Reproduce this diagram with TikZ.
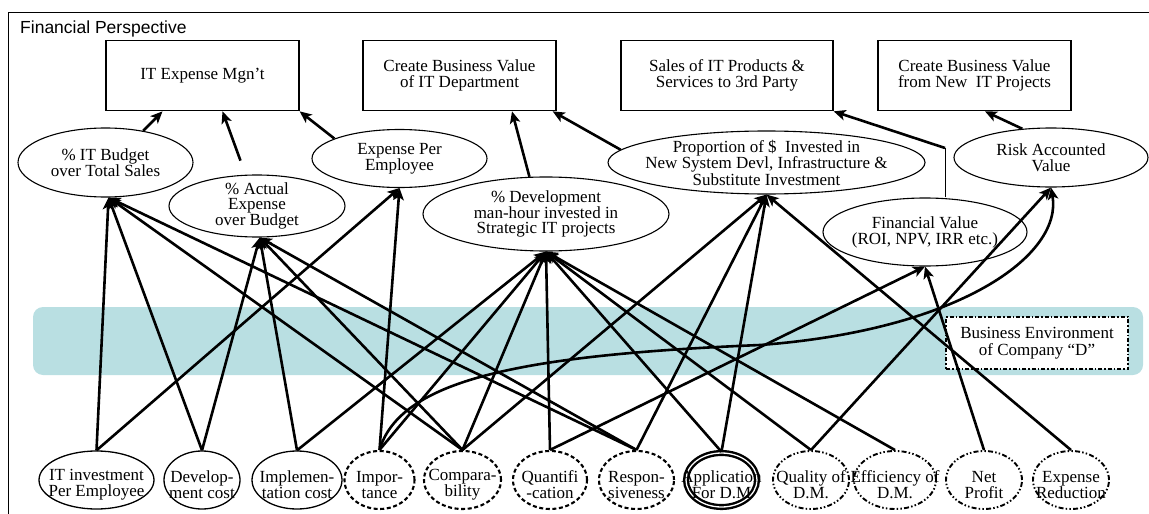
\documentclass[tikz,border=0pt]{standalone}
\usepackage{fontspec}
\setmainfont{Liberation Serif}
\newfontfamily\titlesans{Liberation Sans}
\usetikzlibrary{shapes.geometric,arrows.meta,calc}
\definecolor{bandteal}{HTML}{B9DFE2}

\begin{document}
\begin{tikzpicture}[x=1pt,y=-1pt,
  txt/.style={font=\fontsize{17}{16}\selectfont, align=center},
  goal/.style={draw, line width=1.3pt, minimum width=#1, minimum height=70pt, inner sep=0pt, txt},
  measure/.style n args={2}{ellipse, draw, line width=1.1pt, minimum width=#1, minimum height=#2, inner sep=-40pt, txt},
  driver/.style n args={2}{ellipse, draw, minimum width=#1, minimum height=#2, inner sep=0pt},
  plainring/.style={line width=1.3pt},
  dashring/.style={line width=2.1pt, dash pattern=on 4pt off 2.6pt},
  dotring/.style={line width=1.9pt, dash pattern=on 5pt off 2.2pt on 1.5pt off 2.2pt on 1.5pt off 2.2pt},
  doublering/.style={line width=2.4pt, double, double distance=1.3pt},
  btxt/.style={txt, inner sep=0pt},
  link/.style={line width=2.6pt, -{Stealth[length=12pt,width=10.5pt,inset=3pt]}},
]
\useasboundingbox (0,0) rectangle (1149,514);

% perspective frame and caption
\draw[line width=1pt] (8,530) -- (8,12.3) -- (1170,12.3);
\node[anchor=base west, inner sep=0pt, font=\titlesans\fontsize{17.5}{19}\selectfont] (title) at (20,34) {Financial Perspective};

% business environment band
\node[fill=bandteal, rounded corners=10pt, minimum width=1110pt, minimum height=68pt, inner sep=0pt] (band) at (588,341) {};
\node[draw, fill=white, line width=1.9pt, dash pattern=on 4pt off 2pt on 1.5pt off 2pt,
      minimum width=182pt, minimum height=52pt, inner sep=0pt,
      font=\fontsize{17}{16.5}\selectfont, align=center] (env) at (1037,343) {Business Environment\\of Company “D”};

% goals
\node[goal=193pt] (T1) at (202.5,75.7) {IT Expense Mgn’t};
\node[goal=193pt] (T2) at (459.5,75.7) {Create Business Value\\of IT Department};
\node[goal=212pt] (T3) at (727,75.7) {Sales of IT Products \&\\Services to 3rd Party};
\node[goal=193pt] (T4) at (974.5,75.7) {Create Business Value\\from New\ \ IT Projects};

% measures
\node[measure={175pt}{69pt}] (A) at (105.5,162.5) {\% IT Budget\\over Total Sales};
\node[measure={176pt}{62pt}, font=\fontsize{17}{15}\selectfont] (B) at (257,206) {\% Actual\\Expense\\over Budget};
\node[measure={175pt}{58pt}] (C) at (399.5,158.5) {Expense Per\\Employee};
\node[measure={246pt}{74pt}, font=\fontsize{17}{15.5}\selectfont] (D) at (546,214) {\% Development\\man-hour invested in\\Strategic IT projects};
\node[measure={317pt}{63pt}, font=\fontsize{17}{14}\selectfont] (E) at (766.5,162.5) {Proportion of \$\ \ Invested in\\New System Devl, Infrastructure \&\\Substitute Investment};
\node[measure={194pt}{59pt}] (F) at (1051,157.5) {Risk Accounted\\Value};
\node[measure={204pt}{68pt}] (G) at (925,232) {Financial Value\\(ROI, NPV, IRR etc.)};

% drivers
\node[driver={115pt}{58pt}, plainring] (inv) at (96.5,480) {};
\node[driver={76pt}{58pt}, plainring] (dev) at (202,480) {};
\node[driver={90pt}{58pt}, plainring] (impl) at (297,480) {};
\node[driver={70pt}{58pt}, dashring] (imp) at (379.5,480) {};
\node[driver={77pt}{58pt}, dashring] (comp) at (462.5,480) {};
\node[driver={74pt}{58pt}, dashring] (quant) at (550,480) {};
\node[driver={75pt}{58pt}, dashring] (resp) at (636.5,480) {};
\node[driver={71pt}{54pt}, doublering] (app) at (721.5,480) {};
\node[driver={76pt}{58pt}, dotring] (qual) at (811,480) {};
\node[driver={82pt}{58pt}, dotring] (eff) at (895,480) {};
\node[driver={76pt}{58pt}, dotring] (net) at (984,480) {};
\node[driver={76pt}{58pt}, dotring] (exred) at (1071,480) {};

\node[btxt] (inv-t) at ($(inv)+(0,5)$) {IT investment\\Per Employee};
\node[btxt] (dev-t) at ($(dev)+(0,5)$) {Develop-\\ment cost};
\node[btxt] (impl-t) at ($(impl)+(0,5)$) {Implemen-\\tation cost};
\node[btxt] (imp-t) at ($(imp)+(0,5)$) {Impor-\\tance};
\node[btxt] (comp-t) at ($(comp)+(0,5)$) {Compara-\\bility};
\node[btxt] (quant-t) at ($(quant)+(0,5)$) {Quantifi\\-cation};
\node[btxt] (resp-t) at ($(resp)+(0,5)$) {Respon-\\siveness};
\node[btxt] (app-t) at ($(app)+(0,5)$) {Application\\For D.M};
\node[btxt] (qual-t) at ($(qual)+(0,5)$) {Quality of\\D.M.};
\node[btxt] (eff-t) at ($(eff)+(0,5)$) {Efficiency of\\D.M.};
\node[btxt] (net-t) at ($(net)+(0,5)$) {Net\\Profit};
\node[btxt] (exred-t) at ($(exred)+(0,5)$) {Expense\\Reduction};

% drivers feeding the measures
\foreach \s/\t in {inv/A.-85, dev/A.-85, comp/A.-85, resp/A.-85,
                   dev/B.-85, impl/B.-85, comp/B.-85, resp/B.-85,
                   inv/C.south, imp/C.south,
                   impl/D.south, imp/D.south, comp/D.south, quant/D.south, app/D.south, qual/D.south, eff/D.south,
                   comp/E.south, resp/E.south, app/E.south, exred/E.south,
                   quant/G.south, net/G.south,
                   qual/F.south}
  \draw[link] (\s.north) -- (\t);

\draw[link] (imp.north) .. controls (400,380) and (520,355) .. (760,345)
            .. controls (960,330) and (1063,255) .. (F.south);

% measures feeding the goals
\draw[link] (A.40) -- ($(T1.south)+(-40,0)$);
\draw[link, shorten <=15pt] (B.110) -- ($(T1.south)+(20,0)$);
\draw[link] (C.163) -- (T1.south east);
\draw[link] (D.114) -- ($(T2.south)+(52.5,0)$);
\draw[link] (E.175) -- ($(T2.south east)+(-4,0)$);
\draw[link] (F.135) -- ($(T4.south)+(10.5,0)$);
\coordinate (kink) at (945,148);
\draw[line width=0.9pt] (kink |- G.north) -- (kink);
\draw[link] (kink) -- (T3.south east);
\end{tikzpicture}
\end{document}
